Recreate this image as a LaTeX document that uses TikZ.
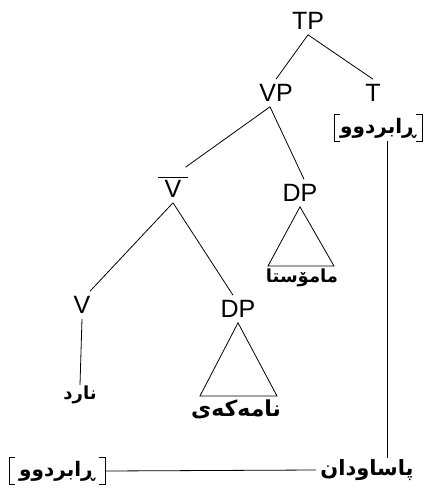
\documentclass[tikz,border=0pt]{standalone}
\usepackage{fontspec}
\setmainfont{Liberation Sans}
\newfontfamily\arabicfont[Script=Arabic]{DejaVu Sans}
\TeXXeTstate=1
\begin{document}
\begin{tikzpicture}[x=1pt,y=-1pt,
  cat/.style={font=\fontsize{25}{25}\selectfont, inner xsep=1pt, inner ysep=5pt},
  ar/.style={font=\arabicfont\bfseries\fontsize{#1}{#1}\selectfont, inner sep=1pt},
  ar/.default=19,
  feat/.style={ar=20, inner xsep=6pt, inner ysep=3pt},
  edge/.style={line width=0.8pt},
  brk/.style={line width=0.8pt}]
\useasboundingbox[fill=white] (0,0) rectangle (426,490);
% categories
\node[cat] (tp) at (308,21) {TP};
\node[cat] (vp) at (276,93) {VP};
\node[cat] (t) at (373,93) {T};
\node[cat] (vbar) at (173,189) {V};
\node[cat] (dpa) at (300,193) {DP};
\node[cat] (v) at (82,305) {V};
\node[cat] (dpb) at (238,309) {DP};
% bar over V
\draw[edge] ([xshift=-5pt,yshift=-2pt]vbar.north west) -- ([xshift=5pt,yshift=-2pt]vbar.north east);
% words
\node[ar=18] (mam) at (302,278) {\beginR مامۆستا\endR};
\node[ar=22] (nam) at (236,409) {\beginR نامەکەی\endR};
\node[ar=18] (nard) at (80,395) {\beginR نارد\endR};
\node[ar=21, inner xsep=4pt] (pas) at (367,470) {\beginR پاساودان\endR};
\node[feat] (tf) at (378,128) {\beginR ڕابردوو\endR};
\node[feat, inner xsep=10pt] (bf) at (57,471) {\beginR ڕابردوو\endR};
% brackets
\foreach \n in {tf,bf}{
  \draw[brk] ([xshift=6pt]\n.north west) -- (\n.north west) -- (\n.south west) -- ([xshift=6pt]\n.south west);
  \draw[brk] ([xshift=-6pt]\n.north east) -- (\n.north east) -- (\n.south east) -- ([xshift=-6pt]\n.south east);
}
% tree edges
\draw[edge] (tp.south) -- (vp.north);
\draw[edge] (tp.south) -- (t.north);
\draw[edge] ([xshift=-6pt]vp.south) -- ([xshift=3pt,yshift=8pt]vbar.north east);
\draw[edge] ([xshift=-6pt]vp.south) -- ([xshift=4pt]dpa.north);
\draw[edge] (vbar.south) -- ([xshift=8pt]v.north);
\draw[edge] (vbar.south) -- ([xshift=-5pt]dpb.north);
\draw[edge] (v.south) -- (nard.north);
% triangles
\coordinate (ta1) at (268,266);
\coordinate (ta2) at (334,266);
\draw[edge] (ta1) -- (dpa.south) -- (ta2) -- cycle;
\coordinate (tb1) at (200,396);
\coordinate (tb2) at (277,396);
\draw[edge] (tb1) -- (dpb.south) -- (tb2) -- cycle;
% movement lines
\draw[edge] ([xshift=9pt]tf.south) -- ([xshift=9pt]tf.south |- pas.north);
\draw[edge] (bf.east) -- (pas.west);
\end{tikzpicture}
\end{document}
